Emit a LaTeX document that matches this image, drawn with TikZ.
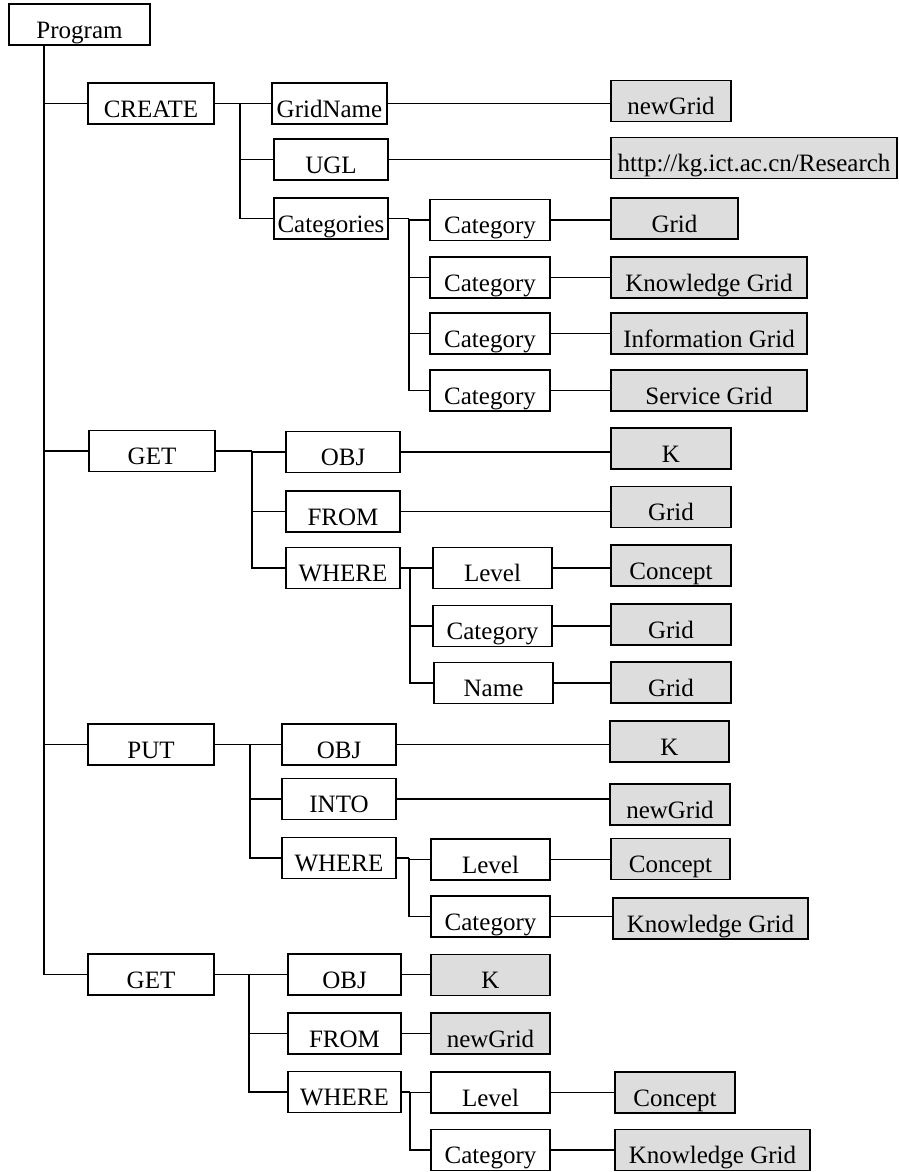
\documentclass[tikz,border=0pt]{standalone}
\usepackage{fontspec}
\setmainfont{Liberation Serif}
\usepackage{tikz}
\usetikzlibrary{calc}

\definecolor{valgray}{RGB}{221,221,221}

\tikzset{
  box/.style={draw, line width=1.6pt, inner sep=0pt, minimum height=41pt,
    text height=27pt, text depth=0pt, font=\fontsize{25}{30}\selectfont},
  op/.style={box, minimum width=126pt},
  field/.style={box, minimum width=114pt},
  attr/.style={box, minimum width=120pt},
  val/.style={box, fill=valgray, minimum width=120pt},
  link/.style={line width=1.6pt}
}

\begin{document}
\begin{tikzpicture}[x=1pt,y=-1pt]
\useasboundingbox (0,0) rectangle (898,1172);

\node[box,minimum width=141pt] (program) at (79.5,24.5) {Program};

% CREATE
\node[op] (create) at (151,103.5) {CREATE};
\node[field,minimum width=115pt] (gridname) at (329.5,103.5) {GridName};
\node[field] (ugl) at (331,159.5) {UGL};
\node[field] (categories) at (331,218.5) {Categories};
\node[attr] (cat_1) at (490,220) {Category};
\node[attr] (cat_2) at (490,277.5) {Category};
\node[attr] (cat_3) at (490,333.5) {Category};
\node[attr] (cat_4) at (490,390.5) {Category};
\node[val] (newgrid_1) at (671,101) {newGrid};
\node[val,minimum width=286pt] (url) at (754,158) {http://kg.ict.ac.cn/Research};
\node[val,minimum width=127pt] (grid_1) at (674.5,218.5) {Grid};
\node[val,minimum width=196pt] (kgrid_1) at (709,277.5) {Knowledge Grid};
\node[val,minimum width=196pt] (igrid) at (709,333.5) {Information Grid};
\node[val,minimum width=196pt] (sgrid) at (709,390.5) {Service Grid};

% first GET
\node[op] (get_1) at (152,451) {GET};
\node[field] (obj_1) at (343,452) {OBJ};
\node[field] (from_1) at (343,511.5) {FROM};
\node[field] (where_1) at (343,568) {WHERE};
\node[attr,minimum width=119pt] (level_1) at (492.5,568) {Level};
\node[attr,minimum width=119pt] (cat_5) at (492.5,626) {Category};
\node[attr,minimum width=119pt] (name_1) at (493.5,683) {Name};
\node[val] (k_1) at (671,448.5) {K};
\node[val] (grid_2) at (671,507) {Grid};
\node[val] (concept_1) at (671,565.5) {Concept};
\node[val] (grid_3) at (671,624.5) {Grid};
\node[val] (grid_4) at (671,682.5) {Grid};

% PUT
\node[op] (put) at (151,744.5) {PUT};
\node[field] (obj_2) at (339,744.5) {OBJ};
\node[field] (into) at (339,799) {INTO};
\node[field] (where_2) at (339,858) {WHERE};
\node[attr,minimum width=119pt] (level_2) at (490.5,859.5) {Level};
\node[attr,minimum width=119pt] (cat_6) at (490.5,916.5) {Category};
\node[val,minimum width=119pt] (k_2) at (669.5,741.5) {K};
\node[val] (newgrid_2) at (670,804.5) {newGrid};
\node[val,minimum width=119pt] (concept_2) at (670.5,859) {Concept};
\node[val,minimum width=195pt] (kgrid_2) at (710.5,918.5) {Knowledge Grid};

% second GET
\node[op] (get_2) at (151,974.5) {GET};
\node[field,minimum width=113pt] (obj_3) at (344.5,974.5) {OBJ};
\node[field,minimum width=113pt] (from_2) at (344.5,1033.5) {FROM};
\node[field,minimum width=113pt] (where_3) at (344.5,1092) {WHERE};
\node[val,minimum width=119pt] (k_3) at (490.5,975) {K};
\node[val,minimum width=119pt] (newgrid_3) at (490.5,1033.5) {newGrid};
\node[attr,minimum width=119pt] (level_3) at (490.5,1092.5) {Level};
\node[attr,minimum width=119pt] (cat_7) at (490.5,1150) {Category};
\node[val] (concept_3) at (675,1092.5) {Concept};
\node[val,minimum width=195pt] (kgrid_3) at (712.5,1150) {Knowledge Grid};

% trunk
\coordinate (trunk) at ([xshift=36pt]program.south west);
\foreach \c in {create,get_1,put,get_2}
  \draw[link] (trunk) |- (\c.west);

% forks
\draw[link] (create.east) -- ++(25,0) coordinate (f_create);
\foreach \c in {gridname,ugl,categories}
  \draw[link] (f_create) |- (\c.west);
\draw[link] (categories.east) -- ++(20,0) coordinate (f_cats);
\foreach \c in {cat_1,cat_2,cat_3,cat_4}
  \draw[link] (f_cats) |- (\c.west);

\draw[link] (get_1.east) -- ++(36,0) coordinate (f_get1);
\foreach \c in {obj_1,from_1,where_1}
  \draw[link] (f_get1) |- (\c.west);
\draw[link] (where_1.east) -- ++(9,0) coordinate (f_where1);
\foreach \c in {level_1,cat_5,name_1}
  \draw[link] (f_where1) |- (\c.west);

\draw[link] (put.east) -- ++(35,0) coordinate (f_put);
\foreach \c in {obj_2,into,where_2}
  \draw[link] (f_put) |- (\c.west);
\draw[link] (where_2.east) -- ++(12,0) coordinate (f_where2);
\foreach \c in {level_2,cat_6}
  \draw[link] (f_where2) |- (\c.west);

\draw[link] (get_2.east) -- ++(34,0) coordinate (f_get2);
\foreach \c in {obj_3,from_2,where_3}
  \draw[link] (f_get2) |- (\c.west);
\draw[link] (where_3.east) -- ++(8,0) coordinate (f_where3);
\foreach \c in {level_3,cat_7}
  \draw[link] (f_where3) |- (\c.west);

% values
\foreach \a/\b in {gridname/newgrid_1,ugl/url,cat_1/grid_1,cat_2/kgrid_1,
    cat_3/igrid,cat_4/sgrid,obj_1/k_1,from_1/grid_2,level_1/concept_1,
    cat_5/grid_3,name_1/grid_4,obj_2/k_2,into/newgrid_2,level_2/concept_2,
    cat_6/kgrid_2,obj_3/k_3,from_2/newgrid_3,level_3/concept_3,cat_7/kgrid_3}
  \draw[link] (\a.east) -- (\a.east -| \b.west);

\end{tikzpicture}
\end{document}
